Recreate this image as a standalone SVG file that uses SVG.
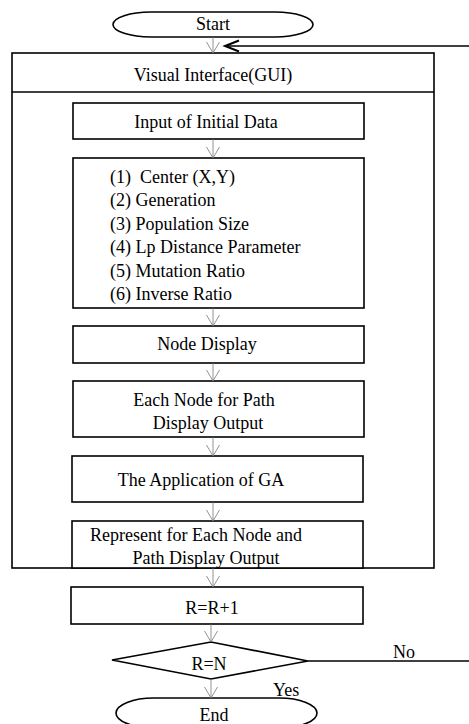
<svg xmlns="http://www.w3.org/2000/svg" width="469" height="724" viewBox="0 0 469 724">
<defs>
<marker id="v" markerWidth="16" markerHeight="16" refX="12" refY="7" orient="auto" markerUnits="userSpaceOnUse"><path d="M1,0.5 L12,7 L1,13.5" fill="none" stroke="#777" stroke-width="0.8"/></marker>
<marker id="lt" markerWidth="18" markerHeight="14" refX="15" refY="6" orient="auto" markerUnits="userSpaceOnUse"><path d="M1,0.5 L15,6 L1,11.5" fill="none" stroke="#000" stroke-width="2"/></marker>
</defs>
<style>
.box{fill:#fff;stroke:#000;stroke-width:1.6}
.t{font-family:"Liberation Serif","Times New Roman",serif;font-size:18px;fill:#000}
.c{text-anchor:middle}
.conn{stroke:#777;stroke-width:0.8;fill:none}
.ln{stroke:#000;stroke-width:1.6;fill:none}
</style>
<g id="gui">
<rect class="box" x="12" y="53" width="422" height="515"/>
<line class="ln" x1="12" y1="92" x2="434" y2="92"/>
<text class="t c" x="213" y="81">Visual Interface(GUI)</text>
</g>
<g id="start">
<rect class="box" x="113" y="12" width="200" height="25" rx="38" ry="12.5"/>
<text class="t c" x="213" y="30">Start</text>
</g>
<g id="input">
<rect class="box" x="73" y="103" width="291" height="36"/>
<text class="t c" x="206" y="128">Input of Initial Data</text>
</g>
<g id="params">
<rect class="box" x="73" y="158" width="291" height="150"/>
<text class="t" x="110" y="183" style="white-space:pre">(1)  Center (X,Y)</text>
<text class="t" x="110" y="206">(2) Generation</text>
<text class="t" x="110" y="229.5">(3) Population Size</text>
<text class="t" x="110" y="253">(4) Lp Distance Parameter</text>
<text class="t" x="110" y="276.5">(5) Mutation Ratio</text>
<text class="t" x="110" y="300">(6) Inverse Ratio</text>
</g>
<g id="nodedisplay">
<rect class="box" x="73" y="326" width="291" height="37"/>
<text class="t c" x="207" y="350">Node Display</text>
</g>
<g id="eachnode">
<rect class="box" x="73" y="381" width="291" height="56"/>
<text class="t c" x="204" y="406">Each Node for Path</text>
<text class="t c" x="208" y="429">Display Output</text>
</g>
<g id="ga">
<rect class="box" x="72" y="456" width="291" height="46"/>
<text class="t c" x="201" y="486">The Application of GA</text>
</g>
<g id="represent">
<rect class="box" x="72" y="521" width="291" height="47"/>
<text class="t c" x="196" y="541">Represent for Each Node and</text>
<text class="t c" x="206" y="564">Path Display Output</text>
</g>
<g id="increment">
<rect class="box" x="71" y="587" width="292" height="37"/>
<text class="t c" x="212" y="614">R=R+1</text>
</g>
<g id="decision">
<polygon class="box" points="112,660 211,642 308,661 211,679"/>
<text class="t c" x="209" y="670">R=N</text>
</g>
<g id="end">
<rect class="box" x="116" y="698" width="201" height="30" rx="38" ry="15"/>
<text class="t c" x="214" y="721">End</text>
</g>
<g id="connectors">
<line class="conn" x1="213" y1="37" x2="213" y2="53" marker-end="url(#v)"/>
<line class="conn" x1="213" y1="139" x2="213" y2="158" marker-end="url(#v)"/>
<line class="conn" x1="213" y1="308" x2="213" y2="326" marker-end="url(#v)"/>
<line class="conn" x1="213" y1="363" x2="213" y2="381" marker-end="url(#v)"/>
<line class="conn" x1="213" y1="437" x2="213" y2="456" marker-end="url(#v)"/>
<line class="conn" x1="213" y1="502" x2="213" y2="521" marker-end="url(#v)"/>
<line class="conn" x1="213" y1="568" x2="213" y2="587" marker-end="url(#v)"/>
<line class="conn" x1="211" y1="624" x2="211" y2="642" marker-end="url(#v)"/>
<line class="conn" x1="211" y1="679" x2="211" y2="698" marker-end="url(#v)"/>
<line class="ln" x1="469" y1="46" x2="225" y2="46" marker-end="url(#lt)"/>
<line class="ln" x1="308" y1="661" x2="469" y2="661"/>
<text class="t" x="393" y="658">No</text>
<text class="t" x="273" y="696">Yes</text>
</g>
</svg>
